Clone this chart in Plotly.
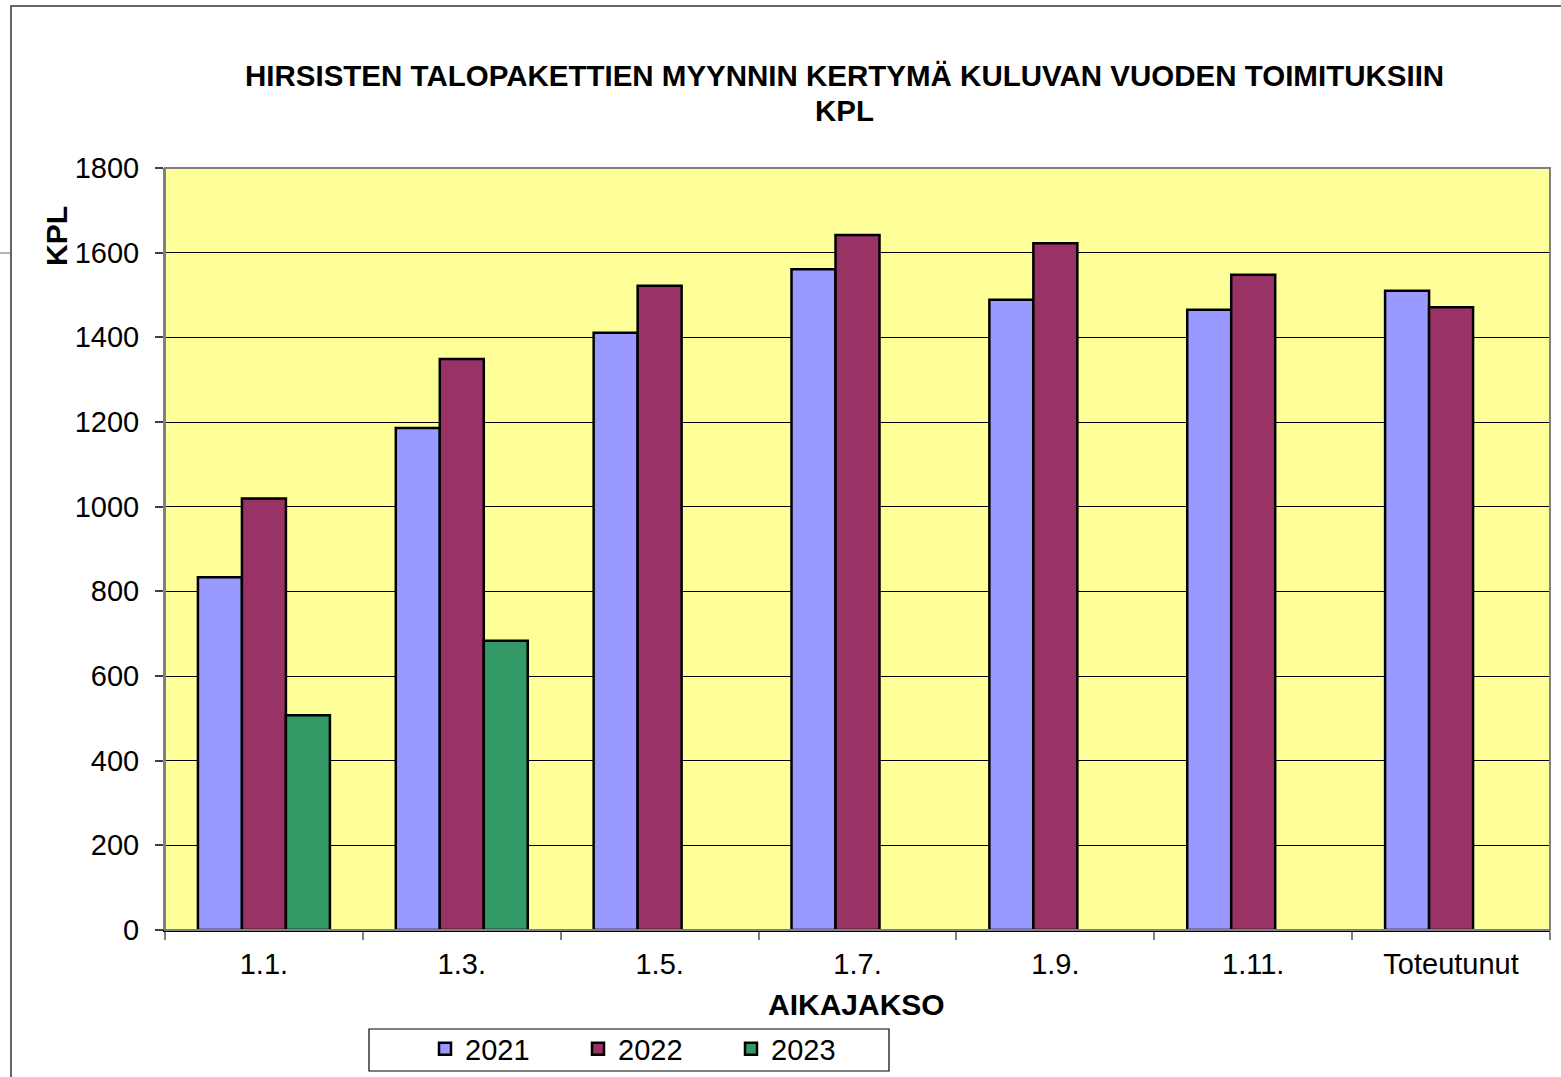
import plotly.graph_objects as go

categories = ["1.1.", "1.3.", "1.5.", "1.7.", "1.9.", "1.11.", "Toteutunut"]
values_2021 = [833, 1186, 1411, 1561, 1489, 1465, 1510]
values_2022 = [1019, 1349, 1522, 1642, 1622, 1548, 1471]
values_2023 = [507, 683, None, None, None, None, None]
series_names = ["2021", "2022", "2023"]
series_colors = ["#9999FF", "#993366", "#339966"]
y_ticks = [0, 200, 400, 600, 800, 1000, 1200, 1400, 1600, 1800]
title_lines = ["HIRSISTEN TALOPAKETTIEN MYYNNIN KERTYMÄ KULUVAN VUODEN TOIMITUKSIIN", "KPL"]
x_title = "AIKAJAKSO"
y_title = "KPL"

FONT = "Liberation Sans, Arial, sans-serif"

# figure is a little taller than the window so the legend never forces the margins
W, H = 1561, 1110
L, R, T = 165, 11, 168
PLOT_BOTTOM = 930
B = H - PLOT_BOTTOM
PW, PH = W - L - R, PLOT_BOTTOM - T


def px_x(x):
    return (x - L) / PW


def px_y(y):
    return (PLOT_BOTTOM - y) / PH


fig = go.Figure()
for name, vals, col in zip(series_names, [values_2021, values_2022, values_2023], series_colors):
    fig.add_trace(go.Bar(
        name=name, x=categories, y=vals,
        marker=dict(color=col, line=dict(color="black", width=2.5)),
    ))

annotations = []
for line, ycen in zip(title_lines, [76, 110]):
    annotations.append(dict(
        text="<b>" + line + "</b>", xref="paper", yref="paper",
        x=px_x(844), y=px_y(ycen), xanchor="center", yanchor="middle",
        showarrow=False, font=dict(size=29.5, family=FONT, color="black")))
annotations.append(dict(
    text="<b>" + x_title + "</b>", xref="paper", yref="paper",
    x=px_x(856), y=px_y(1004.5), xanchor="center", yanchor="middle",
    showarrow=False, font=dict(size=30, family=FONT)))
annotations.append(dict(
    text="<b>" + y_title + "</b>", xref="paper", yref="paper",
    x=px_x(56), y=px_y(236), xanchor="center", yanchor="middle",
    textangle=-90, showarrow=False, font=dict(size=30, family=FONT)))

fig.update_layout(
    width=W, height=H,
    margin=dict(l=L, r=R, t=T, b=B, pad=0, autoexpand=False),
    paper_bgcolor="white",
    plot_bgcolor="#FFFF99",
    barmode="group",
    bargap=0.333,
    bargroupgap=0,
    font=dict(family=FONT, size=29, color="black"),
    showlegend=True,
    legend=dict(
        orientation="h", x=px_x(425), y=px_y(1049), xanchor="left", yanchor="middle",
        bgcolor="rgba(0,0,0,0)", borderwidth=0, font=dict(size=29, family=FONT),
        entrywidth=108, entrywidthmode="pixels", itemclick=False,
        traceorder="normal",
    ),
    xaxis=dict(
        type="category", tickson="boundaries", ticks="outside", ticklen=8,
        tickcolor="#808080", tickwidth=1.5, showgrid=False,
        showline=True, linecolor="black", linewidth=1.5,
        tickfont=dict(size=29, family=FONT), ticklabelstandoff=7,
    ),
    yaxis=dict(
        range=[0, 1800], tickvals=y_ticks, ticks="outside", ticklen=8,
        tickcolor="#404040", tickwidth=1.5,
        showgrid=True, gridcolor="black", gridwidth=1,
        showline=True, linecolor="#808080", linewidth=2,
        zeroline=False, tickfont=dict(size=29, family=FONT),
        ticklabelstandoff=10,
    ),
    shapes=[
        dict(type="rect", xref="paper", yref="paper", x0=0, x1=1, y0=0, y1=1,
             line=dict(color="#808080", width=2), layer="above"),
        dict(type="rect", xref="paper", yref="paper", x0=px_x(11), x1=px_x(1570),
             y0=px_y(1100), y1=px_y(6), line=dict(color="#333333", width=1.5)),
        dict(type="rect", xref="paper", yref="paper", x0=px_x(369), x1=px_x(889),
             y0=px_y(1071), y1=px_y(1029), line=dict(color="black", width=1.2)),
        dict(type="line", xref="paper", yref="paper", x0=px_x(0), x1=px_x(10),
             y0=px_y(253), y1=px_y(253), line=dict(color="#999999", width=1.5)),
    ],
    annotations=annotations,
)

fig.write_html("out.html", config={"displayModeBar": False},
               post_script="document.body.style.margin='0';")
